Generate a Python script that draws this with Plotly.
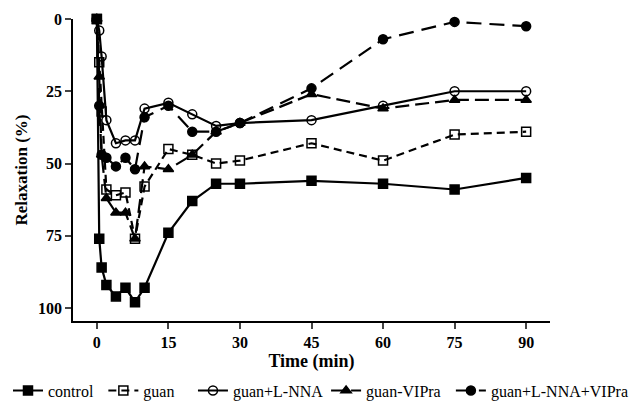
import plotly.graph_objects as go

times = [0, 0.5, 1, 2, 4, 6, 8, 10, 15, 20, 25, 30, 45, 60, 75, 90]

control = [0, 76, 86, 92, 96, 93, 98, 93, 74, 63, 57, 57, 56, 57, 59, 55]
guan = [0, 15, 32, 59, 61, 60, 76, 58, 45, 47, 50, 49, 43, 49, 40, 39]
guan_lnna = [0, 4, 13, 35, 43, 42, 42, 31, 29, 33, 37, 36, 35, 30, 25, 25]
guan_vipra = [0, 20, 47, 62, 67, 67, 76, 51, 52, 47, 39, 36, 26, 31, 28, 28]
guan_lnna_vipra = [0, 30, 47, 48, 51, 48, 52, 34, 30, 39, 39, 36, 24, 7, 1, 2.5]

x_ticks = [0, 15, 30, 45, 60, 75, 90]
y_ticks = [0, 25, 50, 75, 100]

series = [
    ("control", control, "square", "solid"),
    ("guan", guan, "square-open", "8px,5px"),
    ("guan+L-NNA", guan_lnna, "circle-open", "solid"),
    ("guan-VIPra", guan_vipra, "triangle-up", "14px,6px"),
    ("guan+L-NNA+VIPra", guan_lnna_vipra, "circle", "15px,8px"),
]
legend_ids = ["legend", "legend2", "legend3", "legend4", "legend5"]
legend_x = [-0.006, 0.149, 0.289, 0.497, 0.692]

serif = "Liberation Serif"

fig = go.Figure()
for (name, vals, sym, dash), lid in zip(series, legend_ids):
    fig.add_trace(go.Scatter(
        x=times, y=vals, name=name, mode="lines+markers",
        line=dict(color="black", width=2.2, dash=dash),
        marker=dict(symbol=sym, size=9, color="black",
                    line=dict(color="black", width=1.5)),
        cliponaxis=False, legend=lid,
    ))

legend_common = dict(orientation="h", xref="container", yref="container",
                     y=0.095, xanchor="left", yanchor="top",
                     font=dict(family=serif, size=16, color="black"),
                     itemwidth=30, bgcolor="rgba(0,0,0,0)")
legends = {}
for lid, lx in zip(legend_ids, legend_x):
    legends[lid] = dict(legend_common, x=lx)

fig.update_layout(
    width=640, height=404,
    margin=dict(l=65, r=98, t=11, b=91, autoexpand=False),
    plot_bgcolor="white", paper_bgcolor="white",
    font=dict(family=serif, color="black"),
    showlegend=True,
    **legends,
    xaxis=dict(range=[-5, 95], tickvals=x_ticks, ticks="outside", ticklen=6,
               tickwidth=1.5, showline=True, linecolor="black", linewidth=1.5,
               showgrid=False, zeroline=False,
               tickfont=dict(family=serif, size=16, color="black", weight="bold"),
               title=dict(text="<b>Time (min)</b>", font=dict(family=serif, size=18),
                          standoff=4)),
    yaxis=dict(range=[104.5, 0], tickvals=y_ticks, ticks="outside", ticklen=6,
               tickwidth=1.5, showline=True, linecolor="black", linewidth=1.5,
               showgrid=False, zeroline=False,
               tickfont=dict(family=serif, size=16, color="black", weight="bold"),
               title=dict(text="<b>Relaxation (%)</b>", font=dict(family=serif, size=17),
                          standoff=6)),
)

fig.write_html("out.html")
